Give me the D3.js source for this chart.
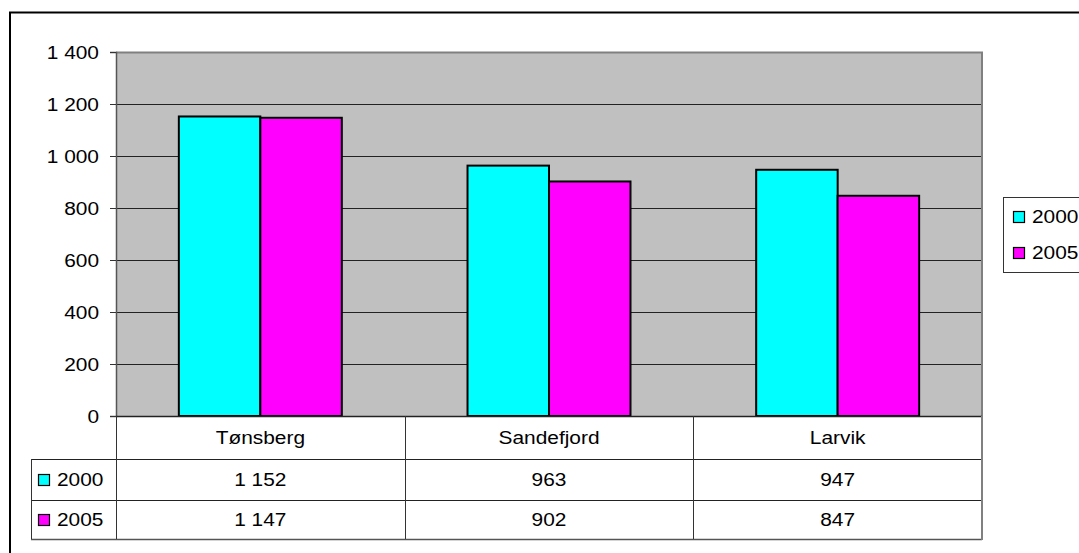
<!DOCTYPE html>
<html>
<head>
<meta charset="utf-8">
<script src="https://cdn.jsdelivr.net/npm/d3@7"></script>
<style>
  html, body { margin: 0; padding: 0; background: #fff; }
  svg { display: block; font-family: Arial, "Liberation Sans", sans-serif; }
</style>
</head>
<body>
<svg id="chart" width="1079" height="553"></svg>
<script>
// Data
const categories = ["Tønsberg", "Sandefjord", "Larvik"];
const seriesNames = ["2000", "2005"];
const values2000 = [1152, 963, 947];
const values2005 = [1147, 902, 847];
const seriesColors = ["#00FFFF", "#FF00FF"];
const yTicks = [0, 200, 400, 600, 800, 1000, 1200, 1400];

const seriesValues = [values2000, values2005];
const fmt = v => d3.format(",")(v).replace(/,/g, " ");

const svg = d3.select("#chart");
const fontSize = 18.5;
const stretch = 1.13;   // slightly widened lettering

// Places a horizontally widened text label at (px, py)
function label(parent, px, py, txt, anchor) {
  return parent.append("text")
    .attr("transform", `translate(${px},${py}) scale(${stretch},1)`)
    .attr("dy", "0.35em")
    .attr("text-anchor", anchor || "start")
    .attr("font-size", fontSize)
    .attr("fill", "#000")
    .text(txt);
}

// Layout
const plot = { left: 116, right: 982, top: 52, bottom: 416 };
const rowBounds = [416, 459, 500, 539];
const tableLeft = 31;

// Outer chart frame
svg.append("rect")
  .attr("x", 10).attr("y", 12.5)
  .attr("width", 1100).attr("height", 600)
  .attr("fill", "#fff").attr("stroke", "#000").attr("stroke-width", 2);

// Scales
const x = d3.scaleBand().domain(categories).range([plot.left, plot.right]);
const y = d3.scaleLinear().domain([0, 1400]).range([plot.bottom, plot.top]);
const gap = 125.7; // space between clusters
const xSeries = d3.scaleBand().domain(seriesNames)
  .range([gap / 2, x.bandwidth() - gap / 2]).paddingInner(0).paddingOuter(0);

// Plot background
svg.append("rect")
  .attr("x", plot.left).attr("y", plot.top)
  .attr("width", plot.right - plot.left).attr("height", plot.bottom - plot.top)
  .attr("fill", "#C0C0C0");

// Gridlines
svg.append("g")
  .selectAll("line")
  .data(yTicks.filter(t => t > 0 && t < 1400))
  .join("line")
  .attr("x1", plot.left).attr("x2", plot.right)
  .attr("y1", d => Math.round(y(d)) + 0.5).attr("y2", d => Math.round(y(d)) + 0.5)
  .attr("stroke", "#222").attr("stroke-width", 1);

// Plot border (top and right, grey)
svg.append("path")
  .attr("d", `M${plot.left},${plot.top + 0.5}H${plot.right}V${plot.bottom}`)
  .attr("fill", "none").attr("stroke", "#808080").attr("stroke-width", 2);

// Bars
const groups = svg.append("g").selectAll("g")
  .data(categories)
  .join("g")
  .attr("transform", d => `translate(${x(d)},0)`);

groups.selectAll("rect")
  .data((c, i) => seriesNames.map((s, j) => ({ s, v: seriesValues[j][i], j })))
  .join("rect")
  .attr("x", d => xSeries(d.s))
  .attr("y", d => y(d.v))
  .attr("width", xSeries.bandwidth())
  .attr("height", d => y(0) - y(d.v))
  .attr("fill", d => seriesColors[d.j])
  .attr("stroke", "#000").attr("stroke-width", 2);

// Y axis
const yAxis = svg.append("g")
  .attr("transform", `translate(${plot.left},0)`)
  .call(d3.axisLeft(y).tickValues(yTicks).tickFormat(fmt).tickSize(6).tickPadding(17));
yAxis.select(".domain").attr("stroke", "#555").attr("stroke-width", 1.5);
yAxis.selectAll(".tick line").attr("stroke", "#333");
yAxis.selectAll(".tick text")
  .attr("x", null).attr("dy", "0.35em")
  .attr("transform", `translate(-17,0) scale(${stretch},1)`)
  .attr("font-size", fontSize).attr("fill", "#000")
  .attr("font-family", "Arial, 'Liberation Sans', sans-serif");

// Data table
const table = svg.append("g");
[1, 2].forEach(r => {
  table.append("line")
    .attr("x1", tableLeft).attr("x2", plot.right)
    .attr("y1", rowBounds[r] + 0.5).attr("y2", rowBounds[r] + 0.5)
    .attr("stroke", "#222");
});
table.append("line")
  .attr("x1", tableLeft).attr("x2", plot.right)
  .attr("y1", rowBounds[3] + 0.5).attr("y2", rowBounds[3] + 0.5)
  .attr("stroke", "#555").attr("stroke-width", 1.5);
table.append("line")
  .attr("x1", plot.left).attr("x2", plot.right)
  .attr("y1", rowBounds[0] + 0.5).attr("y2", rowBounds[0] + 0.5)
  .attr("stroke", "#222").attr("stroke-width", 1.5);
table.append("line")
  .attr("x1", tableLeft + 0.5).attr("x2", tableLeft + 0.5)
  .attr("y1", rowBounds[1]).attr("y2", rowBounds[3])
  .attr("stroke", "#333");
table.selectAll("line.col")
  .data(categories.slice(1))
  .join("line")
  .attr("class", "col")
  .attr("x1", d => Math.round(x(d)) + 0.5).attr("x2", d => Math.round(x(d)) + 0.5)
  .attr("y1", rowBounds[0]).attr("y2", rowBounds[3])
  .attr("stroke", "#333");
table.append("line")
  .attr("x1", plot.left + 0.5).attr("x2", plot.left + 0.5)
  .attr("y1", plot.bottom).attr("y2", rowBounds[3])
  .attr("stroke", "#333");
table.append("line")
  .attr("x1", plot.right).attr("x2", plot.right)
  .attr("y1", plot.bottom).attr("y2", rowBounds[3] + 1)
  .attr("stroke", "#808080").attr("stroke-width", 2);

// category labels
categories.forEach(c => {
  label(table, x(c) + x.bandwidth() / 2, (rowBounds[0] + rowBounds[1]) / 2, c, "middle");
});

// value rows
seriesNames.forEach((s, j) => {
  const cy = (rowBounds[j + 1] + rowBounds[j + 2]) / 2;
  const row = table.append("g");
  row.append("rect")
    .attr("x", 38.5).attr("y", Math.round(cy - 5) - 0.5)
    .attr("width", 11).attr("height", 11)
    .attr("fill", seriesColors[j]).attr("stroke", "#000").attr("stroke-width", 1.2);
  label(row, 57, cy, s, "start");
  categories.forEach((c, i) => {
    label(row, x(c) + x.bandwidth() / 2, cy, fmt(seriesValues[j][i]), "middle");
  });
});

// Legend
const legend = svg.append("g");
legend.append("rect")
  .attr("x", 1003.5).attr("y", 197.5)
  .attr("width", 100).attr("height", 75)
  .attr("fill", "#fff").attr("stroke", "#333");
seriesNames.forEach((s, j) => {
  const cy = 217 + j * 36;
  legend.append("rect")
    .attr("x", 1013.5).attr("y", cy - 5.5)
    .attr("width", 11).attr("height", 11)
    .attr("fill", seriesColors[j]).attr("stroke", "#000").attr("stroke-width", 1.2);
  label(legend, 1032, cy, s, "start");
});
</script>
</body>
</html>
